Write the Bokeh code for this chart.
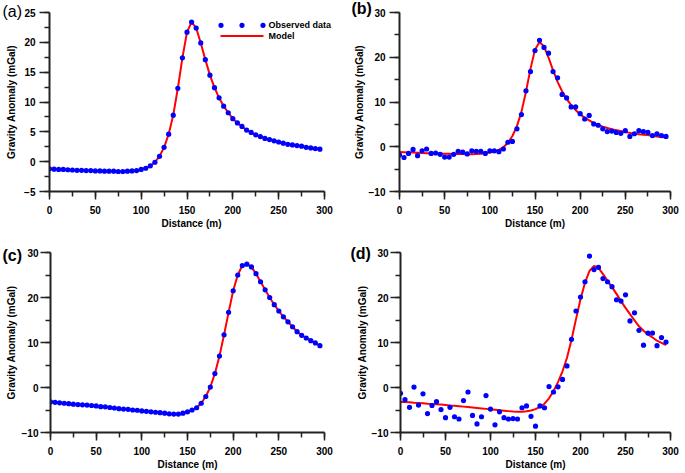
from bokeh.plotting import figure
from bokeh.layouts import column, row
from bokeh.models import Range1d, SingleIntervalTicker
from bokeh.core.properties import value
from bokeh.embed import file_html
from bokeh.resources import INLINE

# ---------------- data ----------------
distance = [0, 5, 10, 15, 20, 25, 30, 35, 40, 45, 50, 55, 60, 65, 70, 75, 80, 85, 90, 95,
            100, 105, 110, 115, 120, 125, 130, 135, 140, 145, 150, 155, 160, 165, 170, 175, 180, 185, 190, 195,
            200, 205, 210, 215, 220, 225, 230, 235, 240, 245, 250, 255, 260, 265, 270, 275, 280, 285, 290, 295]

observed_a = [-1.2, -1.25, -1.3, -1.3, -1.35, -1.4, -1.45, -1.45, -1.5, -1.5,
              -1.55, -1.55, -1.6, -1.6, -1.6, -1.65, -1.65, -1.6, -1.55, -1.5,
              -1.3, -1.1, -0.7, -0.1, 0.9, 2.4, 4.6, 7.8, 12.3, 17.4,
              21.7, 23.4, 22.4, 19.9, 17.1, 14.5, 12.4, 10.7, 9.3, 8.2,
              7.2, 6.5, 5.9, 5.3, 4.9, 4.5, 4.2, 3.9, 3.7, 3.5,
              3.3, 3.1, 2.9, 2.8, 2.7, 2.6, 2.4, 2.3, 2.2, 2.1]
model_ab = [-1.2, -1.25, -1.3, -1.3, -1.35, -1.4, -1.45, -1.45, -1.5, -1.5,
            -1.55, -1.55, -1.6, -1.6, -1.6, -1.65, -1.65, -1.6, -1.55, -1.5,
            -1.3, -1.1, -0.7, -0.1, 0.9, 2.4, 4.6, 7.8, 12.3, 17.4,
            21.7, 23.4, 22.4, 19.9, 17.1, 14.5, 12.4, 10.7, 9.3, 8.2,
            7.2, 6.5, 5.9, 5.3, 4.9, 4.5, 4.2, 3.9, 3.7, 3.5,
            3.3, 3.1, 2.9, 2.8, 2.7, 2.6, 2.4, 2.3, 2.2, 2.1]
observed_b = [-1.8, -2.4, -1.5, -0.6, -2.0, -0.9, -0.5, -1.5, -1.4, -1.7,
              -2.3, -2.3, -1.7, -1.0, -1.2, -1.6, -0.9, -1.0, -1.0, -1.5,
              -0.9, -0.9, -1.1, -0.5, 1.0, 1.2, 4.0, 7.2, 12.5, 16.8,
              21.5, 23.8, 22.2, 20.9, 16.8, 15.4, 11.7, 10.9, 8.9, 8.9,
              7.4, 6.2, 7.0, 5.1, 4.8, 4.0, 3.4, 3.5, 3.2, 3.0,
              3.6, 2.3, 2.9, 3.6, 3.4, 3.2, 2.5, 2.9, 2.5, 2.3]
observed_c = [-3.2, -3.3, -3.4, -3.5, -3.6, -3.7, -3.8, -3.85, -3.9, -4.0,
              -4.1, -4.25, -4.3, -4.45, -4.55, -4.7, -4.8, -4.85, -5.0, -5.05,
              -5.2, -5.3, -5.4, -5.5, -5.6, -5.7, -5.85, -5.9, -5.9, -5.7,
              -5.4, -5.0, -4.5, -3.5, -2.0, 0.1, 3.1, 7.0, 11.7, 16.7,
              21.5, 25.0, 27.1, 27.4, 26.8, 25.3, 23.5, 21.7, 20.0, 18.4,
              17.0, 15.7, 14.6, 13.5, 12.4, 11.6, 11.0, 10.4, 9.9, 9.3]
model_c = [-3.2, -3.3, -3.4, -3.5, -3.6, -3.7, -3.8, -3.85, -3.9, -4.0,
           -4.1, -4.25, -4.3, -4.45, -4.55, -4.7, -4.8, -4.85, -5.0, -5.05,
           -5.2, -5.3, -5.4, -5.5, -5.6, -5.7, -5.85, -5.9, -5.9, -5.7,
           -5.4, -5.0, -4.5, -3.5, -2.0, 0.1, 3.1, 7.0, 11.7, 16.7,
           21.5, 25.0, 27.1, 27.4, 26.8, 25.3, 23.5, 21.7, 20.0, 18.4,
           17.0, 15.7, 14.6, 13.5, 12.4, 11.6, 11.0, 10.4, 9.9, 9.3]
observed_d = [-1.3, -2.7, -4.4, 0.1, -3.9, -1.4, -5.8, -4.0, -3.15, -4.9,
              -6.7, -4.4, -6.5, -7.0, -2.9, -1.0, -6.2, -8.1, -6.5, -1.8,
              -4.8, -8.3, -5.4, -6.7, -7.0, -6.9, -7.0, -4.5, -4.1, -6.4,
              -8.6, -4.1, -4.5, 0.2, -1.0, 0.15, 1.8, 4.8, 10.7, 17.0,
              20.1, 23.5, 29.2, 26.2, 26.7, 24.2, 23.5, 22.4, 19.5, 19.2,
              20.6, 14.8, 16.6, 12.7, 9.4, 12.1, 12.1, 9.3, 11.1, 10.1]
model_d = [-3.2, -3.25, -3.3, -3.4, -3.45, -3.5, -3.6, -3.65, -3.75, -3.8,
           -3.9, -4.0, -4.05, -4.15, -4.25, -4.35, -4.45, -4.55, -4.65, -4.75,
           -4.85, -4.95, -5.05, -5.15, -5.25, -5.35, -5.4, -5.4, -5.3, -5.1,
           -4.8, -4.3, -3.6, -2.4, -0.8, 1.2, 3.6, 6.6, 10.6, 15.2,
           19.6, 23.3, 25.9, 27.0, 26.6, 25.2, 23.7, 22.3, 20.8, 19.2,
           17.7, 16.3, 14.9, 13.6, 12.6, 11.8, 11.1, 10.4, 9.9, 9.4]

panel_letters = ["(a)", "(b)", "(c)", "(d)"]
x_label = "Distance (m)"
y_label = "Gravity Anomaly (mGal)"
legend_labels = ["Observed data", "Model"]

FONT = "Liberation Sans"
BLUE = "#0000FF"
RED = "#FF0000"
AXIS = "#222222"


def make_panel(obs, mod, letter, letter_bold, ymin, ymax, yint,
               w, h, bl, fw, bt, bb, x_axis_len, letter_left, title_standoff,
               ystand, ylab_stand):
    br = w - bl - fw
    fh = h - bt - bb
    xmax = 300.0 * fw / x_axis_len   # frame may extend past the 300 m axis end
    p = figure(width=w, height=h, output_backend="svg", toolbar_location=None,
               x_range=Range1d(0, xmax), y_range=Range1d(ymin, ymax),
               min_border_left=bl, min_border_right=br,
               min_border_top=bt, min_border_bottom=bb)
    p.outline_line_color = None
    p.grid.visible = False
    p.background_fill_color = "white"
    p.border_fill_color = "white"
    p.extra_x_ranges = {"px": Range1d(0, fw)}
    p.extra_y_ranges = {"px": Range1d(0, fh)}

    # panel letter as the figure title, pulled down beside the y axis top
    p.title.text = letter
    p.title.text_font = FONT
    p.title.text_font_size = "16px"
    p.title.text_font_style = "bold" if letter_bold else "normal"
    p.title.text_color = "black"
    p.title.align = "left"
    p.title.vertical_align = "bottom"
    p.title.offset = letter_left - bl
    p.title.standoff = title_standoff

    p.xaxis.ticker = SingleIntervalTicker(interval=50, num_minor_ticks=2)
    p.yaxis.ticker = SingleIntervalTicker(interval=yint, num_minor_ticks=2)
    p.xaxis.bounds = (0, 300)
    for ax in (p.xaxis[0], p.yaxis[0]):
        ax.axis_line_color = AXIS
        ax.axis_line_width = 2
        ax.major_tick_line_color = AXIS
        ax.major_tick_line_width = 1.5
        ax.minor_tick_line_color = AXIS
        ax.minor_tick_line_width = 1.5
        ax.major_tick_in = 0
        ax.minor_tick_in = 0
        ax.minor_tick_out = 5
        ax.major_label_text_font = FONT
        ax.major_label_text_font_style = "bold"
        ax.major_label_text_font_size = "10px"
        ax.major_label_text_color = "black"
        ax.axis_label_text_font = FONT
        ax.axis_label_text_font_style = "bold"
        ax.axis_label_text_font_size = "10px"
        ax.axis_label_text_color = "black"
    p.xaxis.major_tick_out = 8
    p.yaxis.major_tick_out = 10
    p.xaxis.major_label_standoff = 6
    p.yaxis.major_label_standoff = ystand
    p.xaxis.axis_label_standoff = 1
    p.yaxis.axis_label_standoff = ylab_stand
    p.xaxis.axis_label = x_label
    p.yaxis.axis_label = y_label

    p.line(distance, mod, line_color=RED, line_width=2)
    p.scatter(distance, obs, size=5.2, fill_color=BLUE, line_color=BLUE, line_width=0)
    return p, fw, fh


pa, fwa, fha = make_panel(observed_a, model_ab, panel_letters[0], False, -5, 25, 5,
                          342, 236, 49, 284, 9, 45, 275, 2, -14, 4, 4)
pb, _, _ = make_panel(observed_b, model_ab, panel_letters[1], True, -10, 30, 10,
                      342, 236, 57, 271, 12, 42, 271, 9, -9, 4, 1)
pc, _, _ = make_panel(observed_c, model_c, panel_letters[2], True, -10, 30, 10,
                      342, 236, 50, 274, 13, 40, 274, 2, -22, 2, 2)
pd, _, _ = make_panel(observed_d, model_d, panel_letters[3], True, -10, 30, 10,
                      342, 236, 58, 270, 16, 38, 270, 8, -18, 2, 1)

# legend of panel (a), drawn in frame-pixel units at the top right
leg_row1 = fha - 13
leg_row2 = fha - 24
pa.scatter(x=[171.5, 192.5, 213.5], y=[leg_row1] * 3, x_range_name="px", y_range_name="px",
           size=5.2, fill_color=BLUE, line_color=BLUE, line_width=0)
pa.line(x=[171, 214], y=[leg_row2, leg_row2], x_range_name="px", y_range_name="px",
        line_color=RED, line_width=2)
pa.text(x=[219, 219], y=[leg_row1, leg_row2], text=legend_labels,
        x_range_name="px", y_range_name="px",
        text_font=value(FONT), text_font_size="9px", text_font_style="bold",
        text_baseline="middle", text_align="left", text_color="black")

layout = column(row(pa, pb), row(pc, pd))

open("out.html", "w").write(file_html(layout, INLINE))
